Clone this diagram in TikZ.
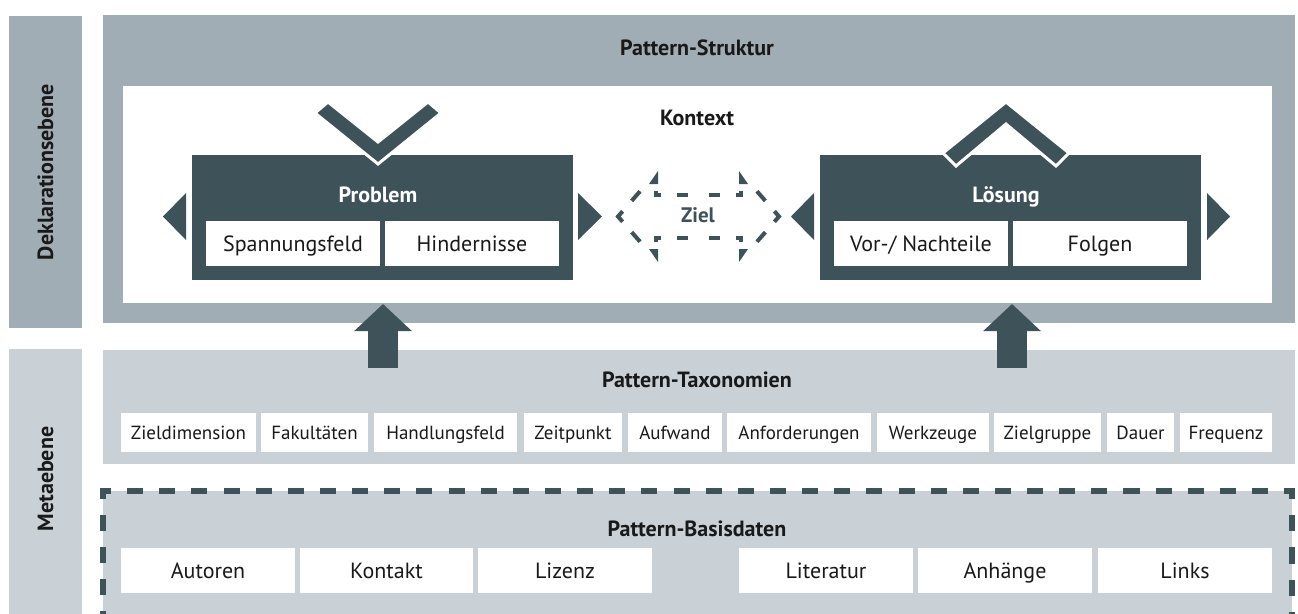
\documentclass[tikz,border=0pt]{standalone}
\usepackage{fontspec}
\setmainfont{PT Sans}
\usetikzlibrary{calc,arrows.meta}

\definecolor{slate}{RGB}{62,82,90}
\definecolor{midgray}{RGB}{161,173,180}
\definecolor{palegray}{RGB}{201,209,215}
\definecolor{ink}{RGB}{25,25,25}

\tikzset{
  bar/.style={fill=midgray, inner sep=0pt},
  panel/.style={fill=palegray, inner sep=0pt},
  darkbox/.style={fill=slate, inner sep=0pt},
  cell/.style={fill=white, inner sep=0pt, text=ink, text depth=0pt},
  bigcell/.style={cell, minimum height=45, text height=15.4pt, font=\fontsize{22}{26}\selectfont},
  taxcell/.style={cell, minimum height=39, text height=13.3pt, font=\fontsize{19}{22}\selectfont},
  heading/.style={inner sep=0pt, text height=15.4pt, text depth=0pt, text=ink,
    font=\bfseries\fontsize{22}{26}\selectfont},
  boxhead/.style={heading, text=white},
  sidelabel/.style={heading, rotate=90},
  sidetip/.style={fill=slate},
  chevron/.style={fill=slate, draw=white, line width=3pt, line join=miter},
  zieldash/.style={draw=slate, line width=4pt},
  bigarrow/.style={draw=slate, line width=30pt, -{Triangle[width=56pt,length=27pt]}},
}

\begin{document}
\begin{tikzpicture}[x=1pt, y=-1pt]
\useasboundingbox (0,0) rectangle (1298,613);
\clip (0,0) rectangle (1298,613);

% level bars on the left
\node[bar, minimum width=73, minimum height=312] (dekl) at (45.5,172) {};
\node[sidelabel] at (dekl) {Deklarationsebene};
\node[panel, minimum width=73, minimum height=274] (meta) at (45.5,486) {};
\node[sidelabel] at (45.5,479) {Metaebene};

% pattern structure
\node[bar, minimum width=1192, minimum height=308] (struktur) at (699,169) {};
\node[heading] (strukturT) at (697,48) {Pattern-Struktur};
\node[fill=white, inner sep=0pt, minimum width=1149, minimum height=217] (kontext) at (697.5,194.5) {};
\node[heading] (kontextT) at (697,118) {Kontext};

% problem
\node[darkbox, minimum width=381, minimum height=125] (problem) at (382.5,217.5) {};
\node[boxhead] (problemT) at (378,195) {Problem};
\node[bigcell, minimum width=174] (spann) at (293,243.5) {Spannungsfeld};
\node[bigcell, minimum width=174] (hind) at (472,243.5) {Hindernisse};

% solution
\node[darkbox, minimum width=381, minimum height=125] (loesung) at (1010.5,217.5) {};
\node[boxhead] (loesungT) at (1006,195) {Lösung};
\node[bigcell, minimum width=174] (vornach) at (921,243.5) {Vor-/ Nachteile};
\node[bigcell, minimum width=174] (folgen) at (1100,243.5) {Folgen};

% chevrons entering the boxes
\draw[chevron] (315,113) -- (328,102) -- (378,142) -- (428,102) -- (441,113) -- (378,164) -- cycle;
\draw[chevron] (1006,102) -- (1069,153) -- (1056,166) -- (1006,124) -- (956,166) -- (943,153) -- cycle;

% side triangles
\fill[sidetip] (163,216.5) -- (186,193) -- (186,240) -- cycle;
\fill[sidetip] (602,216.5) -- (578,193) -- (578,240) -- cycle;
\fill[sidetip] (791,216.5) -- (814,193) -- (814,240) -- cycle;
\fill[sidetip] (1230,216.5) -- (1207,193) -- (1207,240) -- cycle;

% goal: dashed double-headed arrow outline
\coordinate (zL) at (618,216.5);
\coordinate (zR) at (779,216.5);
\coordinate (zTL) at (656,173);
\coordinate (zTR) at (741,173);
\coordinate (zBL) at (656,260);
\coordinate (zBR) at (741,260);
\node[heading, text=slate, text height=14.7pt, font=\bfseries\fontsize{21}{25}\selectfont] (ziel) at (698,215.5) {Ziel};
\begin{scope}[zieldash]
  % pointed tips
  \draw[line join=miter] ($(zL)!7pt!(zTL)$) -- (zL) -- ($(zL)!7pt!(zBL)$);
  \draw[line join=miter] ($(zR)!7pt!(zTR)$) -- (zR) -- ($(zR)!7pt!(zBR)$);
  % dashes on the slanted sides
  \draw ($(zL)!0.36!(zTL)$) -- ($(zL)!0.58!(zTL)$);
  \draw ($(zL)!0.36!(zBL)$) -- ($(zL)!0.58!(zBL)$);
  \draw ($(zR)!0.36!(zTR)$) -- ($(zR)!0.58!(zTR)$);
  \draw ($(zR)!0.36!(zBR)$) -- ($(zR)!0.58!(zBR)$);
  % inner corners of the shaft
  \draw[line join=miter] (656,191) -- (656,195) -- (661,195);
  \draw[line join=miter] (741,191) -- (741,195) -- (736,195);
  \draw[line join=miter] (656,242) -- (656,238) -- (661,238);
  \draw[line join=miter] (741,242) -- (741,238) -- (736,238);
  % shaft dashes
  \draw (677,195) -- (688,195);  \draw (709,195) -- (720,195);
  \draw (677,238) -- (688,238);  \draw (709,238) -- (720,238);
\end{scope}
% barb tips
\fill[slate] (649,184) -- (658,171) -- (658,184) -- cycle;
\fill[slate] (748,184) -- (739,171) -- (739,184) -- cycle;
\fill[slate] (649,249) -- (658,249) -- (658,262) -- cycle;
\fill[slate] (748,249) -- (739,249) -- (739,262) -- cycle;

% taxonomies
\node[panel, minimum width=1192, minimum height=114] (tax) at (699,407) {};
\node[heading] (taxT) at (697,380) {Pattern-Taxonomien};
\node[taxcell, minimum width=135] (t1) at (188.5,432.5) {Zieldimension};
\node[taxcell, minimum width=107] (t2) at (314.5,432.5) {Fakultäten};
\node[taxcell, minimum width=143] (t3) at (445.5,432.5) {Handlungsfeld};
\node[taxcell, minimum width=98]  (t4) at (573,432.5) {Zeitpunkt};
\node[taxcell, minimum width=94]  (t5) at (675,432.5) {Aufwand};
\node[taxcell, minimum width=144] (t6) at (799,432.5) {Anforderungen};
\node[taxcell, minimum width=112] (t7) at (933,432.5) {Werkzeuge};
\node[taxcell, minimum width=107] (t8) at (1047.5,432.5) {Zielgruppe};
\node[taxcell, minimum width=67]  (t9) at (1140.5,432.5) {Dauer};
\node[taxcell, minimum width=92]  (t10) at (1226,432.5) {Frequenz};

% arrows from taxonomies up into the structure
\coordinate (aPfrom) at (383,368);
\coordinate (aPto) at (383,304);
\coordinate (aLfrom) at (1012,368);
\coordinate (aLto) at (1012,304);
\draw[bigarrow] (aPfrom) -- (aPto);
\draw[bigarrow] (aLfrom) -- (aLto);

% basic data (dashed frame)
\fill[palegray] (103,491) rectangle (1292,640);
\draw[slate, line width=5.5pt, dash pattern=on 16.07pt off 16.07pt, dash phase=19.7pt]
  (103,640) -- (103,491) -- (1292,491) -- (1292,640);
\node[heading] (basisT) at (697,528.5) {Pattern-Basisdaten};
\node[bigcell, minimum width=174] (b1) at (208,570.5) {Autoren};
\node[bigcell, minimum width=173] (b2) at (386.5,570.5) {Kontakt};
\node[bigcell, minimum width=174] (b3) at (565,570.5) {Lizenz};
\node[bigcell, minimum width=174] (b4) at (826,570.5) {Literatur};
\node[bigcell, minimum width=174] (b5) at (1005,570.5) {Anhänge};
\node[bigcell, minimum width=174] (b6) at (1185,570.5) {Links};
\end{tikzpicture}
\end{document}
